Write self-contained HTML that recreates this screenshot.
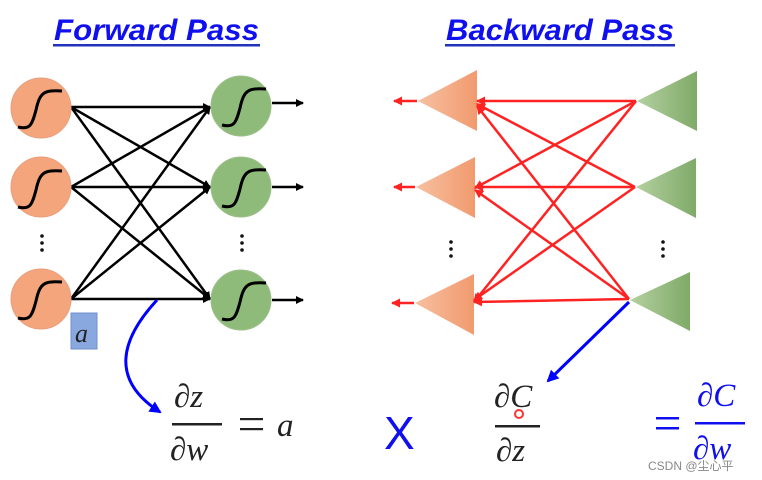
<!DOCTYPE html>
<html><head><meta charset="utf-8"><style>
html,body{margin:0;padding:0;background:#fff;width:762px;height:480px;overflow:hidden}
svg{display:block}
</style></head><body>
<svg width="762" height="480" viewBox="0 0 762 480" xmlns="http://www.w3.org/2000/svg">
<defs>
<marker id="ab" markerWidth="8" markerHeight="8" refX="7" refY="4" orient="auto" markerUnits="userSpaceOnUse"><path d="M0,0 L8,4 L0,8 z" fill="#000"/></marker>
<marker id="ar" markerWidth="9" markerHeight="9" refX="8" refY="4.5" orient="auto" markerUnits="userSpaceOnUse"><path d="M0,0 L9,4.5 L0,9 z" fill="#f22"/></marker>
<marker id="abl" markerWidth="12" markerHeight="12" refX="10" refY="6" orient="auto" markerUnits="userSpaceOnUse"><path d="M0,0 L12,6 L0,12 z" fill="#00f"/></marker>
<linearGradient id="og" x1="0" x2="1"><stop offset="0" stop-color="#f7c0a0"/><stop offset="1" stop-color="#f19a6e"/></linearGradient>
<linearGradient id="gg" x1="0" x2="1"><stop offset="0" stop-color="#b4d0a0"/><stop offset="1" stop-color="#7faa68"/></linearGradient>
</defs>
<g font-family="'Liberation Sans',sans-serif" font-weight="bold" font-style="italic" font-size="30" fill="#1010ee">
<text x="54" y="40" textLength="205" lengthAdjust="spacingAndGlyphs">Forward Pass</text>
<text x="446" y="40" textLength="228" lengthAdjust="spacingAndGlyphs">Backward Pass</text>
</g>
<rect x="53" y="44" width="207" height="2.5" fill="#2233bb"/>
<rect x="445" y="44" width="230" height="2.5" fill="#2233bb"/>

<g stroke="#000" stroke-width="2.5" fill="none" marker-end="url(#ab)">
<line x1="71" y1="107" x2="210" y2="107"/><line x1="71" y1="107" x2="210" y2="187"/><line x1="71" y1="107" x2="210" y2="299"/>
<line x1="71" y1="187" x2="210" y2="107"/><line x1="71" y1="187" x2="210" y2="187"/><line x1="71" y1="187" x2="210" y2="299"/>
<line x1="71" y1="299" x2="210" y2="107"/><line x1="71" y1="299" x2="210" y2="187"/><line x1="71" y1="299" x2="210" y2="299"/>
<line x1="272" y1="103" x2="303" y2="103"/><line x1="272" y1="187" x2="303" y2="187"/><line x1="272" y1="300" x2="303" y2="300"/>
</g>
<g stroke="#e8a080" stroke-width="1" fill="#f4a57c">
<circle cx="41" cy="108" r="30"/><circle cx="41" cy="187" r="30"/><circle cx="41" cy="299" r="30"/>
</g>
<g stroke="#9cc08a" stroke-width="1" fill="#8fbb7a">
<circle cx="241" cy="106" r="30"/><circle cx="241" cy="187" r="30"/><circle cx="241" cy="300" r="30"/>
</g>
<g stroke="#000" stroke-width="3" fill="none">
<path d="M18,127 C30,130 32,125 36,110 C40,92 44,90 62,91"/>
<path d="M18,207 C30,210 32,205 36,190 C40,172 44,170 62,171"/>
<path d="M18,318 C30,321 32,316 36,301 C40,283 44,281 62,282"/>
<path d="M222,125 C234,128 236,123 240,108 C244,90 248,88 266,89"/>
<path d="M222,206 C234,209 236,204 240,189 C244,171 248,169 266,170"/>
<path d="M222,319 C234,322 236,317 240,302 C244,284 248,282 266,283"/>
</g>
<g fill="#111"><circle cx="42" cy="236" r="1.8"/><circle cx="42" cy="243" r="1.8"/><circle cx="42" cy="250" r="1.8"/>
<circle cx="242" cy="236" r="1.8"/><circle cx="242" cy="243" r="1.8"/><circle cx="242" cy="250" r="1.8"/>
<circle cx="451" cy="242" r="1.8"/><circle cx="451" cy="249" r="1.8"/><circle cx="451" cy="256" r="1.8"/>
<circle cx="663" cy="242" r="1.8"/><circle cx="663" cy="249" r="1.8"/><circle cx="663" cy="256" r="1.8"/></g>
<rect x="71" y="313" width="26" height="36" fill="#8aa8e0" stroke="#7090cc"/>
<text x="75" y="342" font-family="'Liberation Serif',serif" font-style="italic" font-size="26" fill="#222">a</text>

<polygon points="418,101 477,70 477,131" fill="url(#og)"/>
<polygon points="416,187 475,157 475,218" fill="url(#og)"/>
<polygon points="415,303 474,274 474,335" fill="url(#og)"/>
<polygon points="637,101 697,71 697,131" fill="url(#gg)"/>
<polygon points="636,187 696,158 696,218" fill="url(#gg)"/>
<polygon points="630,300 690,272 690,331" fill="url(#gg)"/>
<g stroke="#f22" stroke-width="2.5" fill="none" marker-end="url(#ar)">
<line x1="636" y1="101" x2="477" y2="101"/><line x1="636" y1="101" x2="475" y2="188"/><line x1="636" y1="101" x2="474" y2="302"/>
<line x1="635" y1="187" x2="477" y2="104"/><line x1="635" y1="187" x2="475" y2="187"/><line x1="635" y1="187" x2="474" y2="300"/>
<line x1="629" y1="299" x2="477" y2="106"/><line x1="629" y1="299" x2="475" y2="190"/><line x1="629" y1="299" x2="474" y2="302"/>
<line x1="417" y1="101" x2="394" y2="101"/><line x1="415" y1="187" x2="394" y2="187"/><line x1="414" y1="303" x2="392" y2="303"/>
</g>
<path d="M157,300 C120,340 110,380 160,412" stroke="#00f" stroke-width="3" fill="none" marker-end="url(#abl)"/>
<line x1="629" y1="302" x2="548" y2="381" stroke="#00f" stroke-width="3" marker-end="url(#abl)"/>

<g font-family="'Liberation Serif',serif" font-style="italic" font-size="33" fill="#222">
<text x="174" y="407">∂z</text>
<text x="170" y="460">∂w</text>
<text x="277" y="436">a</text>
<text x="494" y="407">∂C</text>
<text x="496" y="461">∂z</text>
</g>
<rect x="172" y="423" width="50" height="2.5" fill="#222"/>
<rect x="240" y="418" width="23" height="2.2" fill="#222"/><rect x="240" y="428" width="23" height="2.2" fill="#222"/>
<rect x="495" y="425" width="45" height="2.5" fill="#222"/>
<circle cx="519" cy="414" r="4" fill="none" stroke="#f33" stroke-width="2"/>
<text x="384" y="449" font-family="'Liberation Sans',sans-serif" font-size="46" fill="#1010ee">X</text>
<rect x="656" y="417" width="23" height="2.5" fill="#1010ee"/><rect x="656" y="427" width="23" height="2.5" fill="#1010ee"/>
<rect x="695" y="422" width="50" height="2.5" fill="#1010ee"/>
<g font-family="'Liberation Serif',serif" font-style="italic" font-size="33" fill="#1010ee">
<text x="697" y="406">∂C</text>
<text x="693" y="459">∂w</text>
</g>
<text x="648" y="470" font-family="'Liberation Sans','Noto Sans CJK SC',sans-serif" font-size="12" fill="#888">CSDN @尘心平</text>
</svg>
</body></html>
